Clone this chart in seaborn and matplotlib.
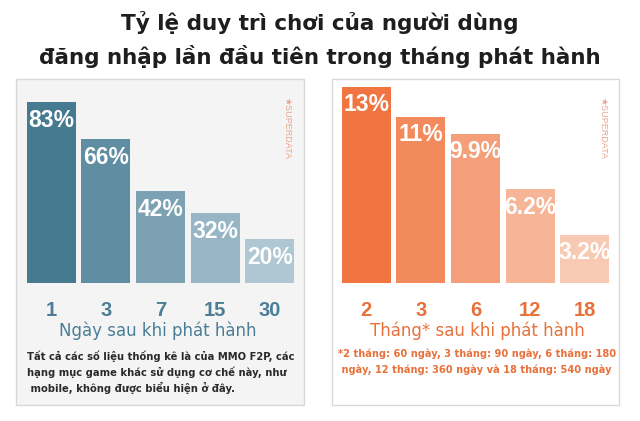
import pandas as pd
import numpy as np
import seaborn as sns
import matplotlib.pyplot as plt
from matplotlib.patches import Rectangle

W, H = 640, 421

title_lines = ['Tỷ lệ duy trì chơi của người dùng',
               'đăng nhập lần đầu tiên trong tháng phát hành']

day_labels = ['1', '3', '7', '15', '30']
day_values = [83, 66, 42, 32, 20]
day_text = ['83%', '66%', '42%', '32%', '20%']
day_colors = ['#467a91', '#5f8da2', '#7ba1b3', '#97b5c4', '#aec7d3']
day_title = 'Ngày sau khi phát hành'
day_note = ['Tất cả các số liệu thống kê là của MMO F2P, các',
            'hạng mục game khác sử dụng cơ chế này, như',
            ' mobile, không được biểu hiện ở đây.']

month_labels = ['2', '3', '6', '12', '18']
month_values = [13, 11, 9.9, 6.2, 3.2]
month_text = ['13%', '11%', '9.9%', '6.2%', '3.2%']
month_colors = ['#f07541', '#f28a5d', '#f49f79', '#f6b597', '#f8c9b3']
month_title = 'Tháng* sau khi phát hành'
month_note = ['*2 tháng: 60 ngày, 3 tháng: 90 ngày, 6 tháng: 180',
              ' ngày, 12 tháng: 360 ngày và 18 tháng: 540 ngày']

blue = '#4b7e96'
orange = '#e8703a'

sns.set_theme(style='white')
plt.rcParams['font.family'] = ['DejaVu Sans']

fig = plt.figure(figsize=(W / 100, H / 100), dpi=100)
fig.patch.set_facecolor('white')


def fx(px):
    return px / W


def fy(py):
    return 1 - py / H


def panel(x0, x1, face):
    r = Rectangle((fx(x0), fy(405)), fx(x1) - fx(x0), (405 - 79) / H,
                  transform=fig.transFigure, facecolor=face,
                  edgecolor='#d8d8d8', lw=1, zorder=-1)
    fig.add_artist(r)


def bars(x0, x1, ytop, ymax, labels, values, texts, colors, tick_color):
    ax = fig.add_axes([fx(x0), fy(283), fx(x1) - fx(x0), fy(ytop) - fy(283)])
    df = pd.DataFrame({'cat': labels, 'val': values})
    sns.barplot(data=df, x='cat', y='val', hue='cat', palette=colors,
                legend=False, width=0.9, saturation=1, linewidth=0, ax=ax)
    ax.set_ylim(0, ymax)
    ax.set_facecolor('none')
    for s in ax.spines.values():
        s.set_visible(False)
    ax.set_yticks([])
    ax.set_xlabel('')
    ax.set_ylabel('')
    ax.tick_params(axis='x', length=0, pad=13)
    ax.set_xticks(range(len(labels)))
    ax.set_xticklabels(labels, fontsize=14.5, fontweight='bold',
                       color=tick_color, family='Liberation Sans')
    for i, (v, t) in enumerate(zip(values, texts)):
        ax.annotate(t, (i, v), xytext=(0, -13), textcoords='offset points',
                    ha='center', va='center', color='white', fontsize=16.5,
                    fontweight='bold', family='Liberation Sans')
    return ax


panel(16, 304, '#f4f4f4')
panel(332, 619, 'white')

bars(24, 297, 90, (283 - 90) / 2.18, day_labels, day_values, day_text,
     day_colors, blue)
bars(339, 612, 84, (283 - 84) / 15.1, month_labels, month_values, month_text,
     month_colors, orange)

fig.text(fx(320), fy(22), title_lines[0], ha='center', va='center',
         fontsize=15.5, color='#1e1e1e', fontweight='bold')
fig.text(fx(320), fy(57), title_lines[1], ha='center', va='center',
         fontsize=15.5, color='#1e1e1e', fontweight='bold')

fig.text(fx(158), fy(331), day_title, ha='center', va='center',
         fontsize=12, color=blue)
fig.text(fx(477), fy(331), month_title, ha='center', va='center',
         fontsize=12, color=orange)

for k, line in enumerate(day_note):
    fig.text(fx(27), fy(356 + 16 * k), line, ha='left', va='center',
             fontsize=7.2, color='#2a2a2a', fontweight='bold')
for k, line in enumerate(month_note):
    fig.text(fx(338), fy(354 + 16 * k), line, ha='left', va='center',
             fontsize=7.1, color=orange, fontweight='bold')

for x in (287, 603):
    fig.text(fx(x), fy(97), '★SUPERDATA', rotation=-90, ha='center',
             va='top', fontsize=6.5, color='#eba58e',
             family=['Liberation Sans', 'DejaVu Sans'])

fig.savefig('out.png', dpi=100)
